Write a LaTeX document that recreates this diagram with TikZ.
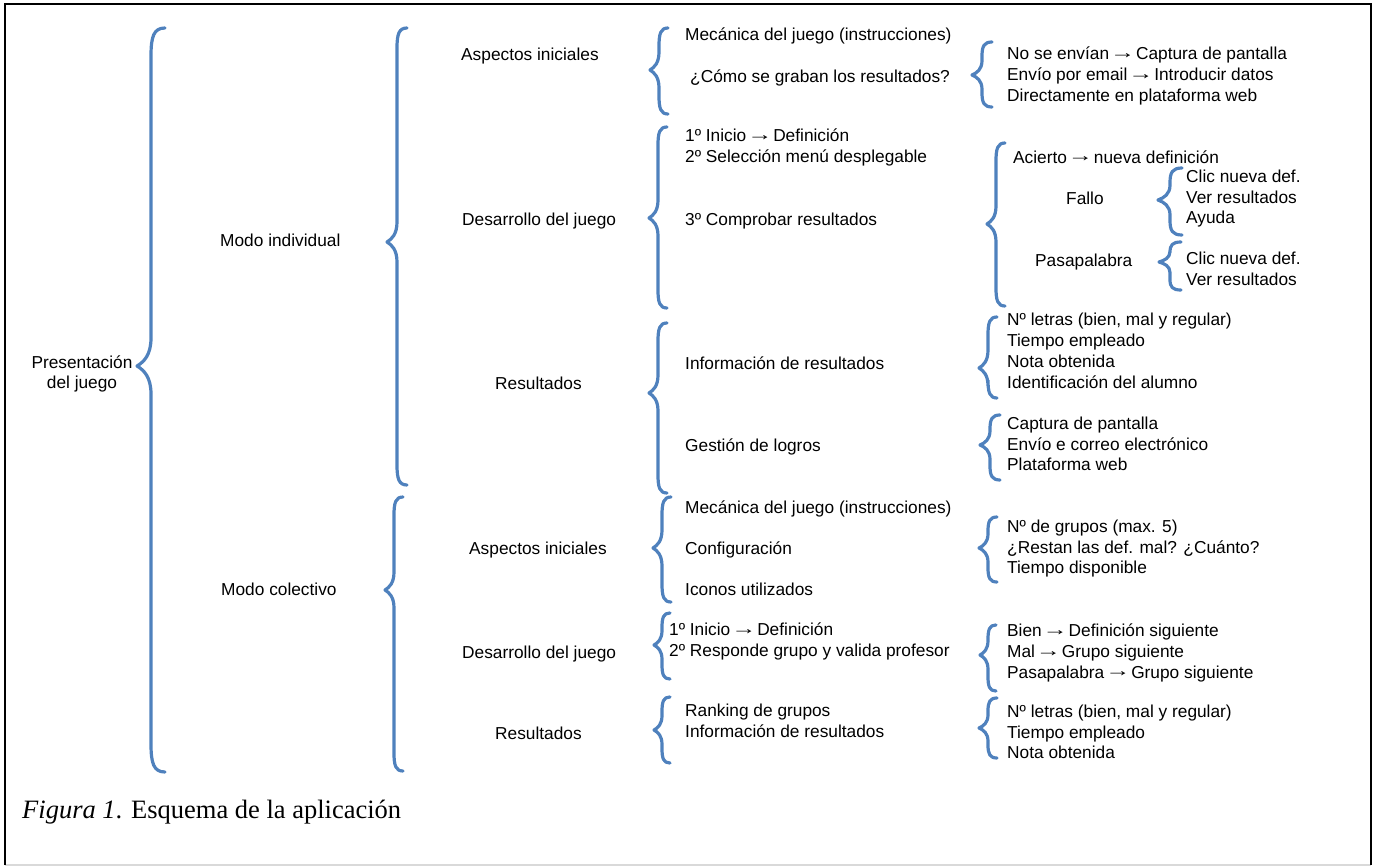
\documentclass[tikz,border=0pt]{standalone}
\usepackage{fontspec}
\setmainfont{Liberation Sans}
\newfontfamily\captionfont{Liberation Serif}
\usepackage{xcolor}
\usepackage{graphicx}
\usepackage{tikz}
\usetikzlibrary{positioning,calc}

\definecolor{llaveblue}{RGB}{79,129,189}

% arrow inside the texts
\newcommand{\flecha}{\makebox[1em][c]{\raisebox{1.2pt}{\scalebox{1.45}[1]{→}}}}

% brace: [half width]{x of stem}{top}{tip}{bottom}
\newcommand{\llave}[5][9]{%
  \pgfmathsetmacro{\llavelen}{min(2*#1,0.22*(#5-#3))}
  \draw[llave_line] ({#2+#1},#3) .. controls ({#2+0.2*#1},#3) and (#2,{#3+0.3*\llavelen}) .. (#2,{#3+\llavelen})
    -- (#2,{#4-\llavelen}) .. controls (#2,{#4-0.4*\llavelen}) and ({#2-0.5*#1},{#4-0.15*\llavelen}) .. ({#2-#1},#4)
    .. controls ({#2-0.5*#1},{#4+0.15*\llavelen}) and (#2,{#4+0.4*\llavelen}) .. (#2,{#4+\llavelen})
    -- (#2,{#5-\llavelen}) .. controls (#2,{#5-0.3*\llavelen}) and ({#2+0.2*#1},#5) .. ({#2+#1},#5);
}

\begin{document}
\begin{tikzpicture}[
    x=1pt, y=-1pt,
    llave_line/.style={draw=llaveblue, line width=3.2pt, line cap=round, line join=round},
    item_text/.style={anchor=west, align=left, inner sep=0pt, yshift=-2pt, font=\fontsize{17.3}{20.8}\selectfont,
      execute at begin node=\strut, execute at end node=\strut},
    root_text/.style={align=center, inner sep=0pt, font=\fontsize{17.3}{19.5}\selectfont},
    caption_text/.style={anchor=west, inner sep=0pt, font=\captionfont\fontsize{26.5}{30}\selectfont}
]
\useasboundingbox (0,0) rectangle (1377,867);

% Frame
\draw[black!15, line width=1.5pt] (5,865) -- (1371,865);
\draw[black, line width=2pt] (5,865) -- (5,4) -- (1371,4) -- (1371,865);

% Root
\node[root_text] (root) at (82,374) {Presentación\\del juego};
\llave[14]{151}{28}{366}{772}

% Modes
\node[item_text] (indiv) at (220,240) {Modo individual};
\node[item_text] (colec) at (221,589) {Modo colectivo};
\llave[10]{397}{28}{242}{485}
\llave[9]{394}{497}{590}{771}

% Modo individual: sections
\node[item_text] (ind_asp) at (461,54) {Aspectos iniciales};
\node[item_text] (ind_des) at (462,219) {Desarrollo del juego};
\node[item_text] (ind_res) at (495,383) {Resultados};
\llave[9]{659}{28}{70}{114}
\llave[9]{658}{127}{218}{308}
\llave[9]{658}{323}{393}{493}

% Aspectos iniciales (individual)
\node[item_text] (ind_mec) at (685,34) {Mecánica del juego (instrucciones)};
\node[item_text] (ind_graba) at (690,76) {¿Cómo se graban los resultados?};
\llave[10]{982}{42}{75}{107}
\node[item_text] (ind_envio) at (1007,75) {No se envían \flecha{} Captura de pantalla\\Envío por email \flecha{} Introducir datos\\Directamente en plataforma web};

% Desarrollo del juego (individual)
\node[item_text] (ind_pasos) at (685,147) {1º Inicio \flecha{} Definición\\2º Selección menú desplegable};
\node[item_text] (ind_comp) at (685,219) {3º Comprobar resultados};
\llave[9]{996}{143}{224}{306}
\node[item_text] (acierto) at (1013,157) {Acierto \flecha{} nueva definición};
\node[item_text] (fallo) at (1066,198) {Fallo};
\llave[12]{1170}{168}{200}{235}
\node[item_text] (fallo_ops) at (1186,198) {Clic nueva def.\\Ver resultados\\Ayuda};
\node[item_text] (pasa) at (1035,260) {Pasapalabra};
\llave[11]{1170}{242}{262}{290}
\node[item_text] (pasa_ops) at (1186,270) {Clic nueva def.\\Ver resultados};

% Resultados (individual)
\node[item_text] (ind_info) at (685,363) {Información de resultados};
\node[item_text] (ind_logros) at (685,445) {Gestión de logros};
\llave[9]{988}{317}{368}{398}
\node[item_text] (ind_datos) at (1007,352) {Nº letras (bien, mal y regular)\\Tiempo empleado\\Nota obtenida\\Identificación del alumno};
\llave[10]{990}{415}{445}{480}
\node[item_text] (ind_guardar) at (1007,445) {Captura de pantalla\\Envío e correo electrónico\\Plataforma web};

% Modo colectivo: sections
\node[item_text] (col_asp) at (469,548) {Aspectos iniciales};
\node[item_text] (col_des) at (462,652) {Desarrollo del juego};
\node[item_text] (col_res) at (495,733) {Resultados};
\llave[9]{662}{497}{548}{602}
\llave[8]{662}{613}{645}{679}
\llave[8]{662}{697}{730}{763}

% Aspectos iniciales (colectivo)
\node[item_text] (col_mec) at (685,507) {Mecánica del juego (instrucciones)};
\node[item_text] (col_conf) at (685,548) {Configuración};
\node[item_text] (col_iconos) at (685,589) {Iconos utilizados};
\llave[9]{988}{517}{548}{582}
\node[item_text] (col_conf_ops) at (1007,548) {Nº de grupos (max. 5)\\¿Restan las def. mal? ¿Cuánto?\\Tiempo disponible};

% Desarrollo del juego (colectivo)
\node[item_text] (col_pasos) at (669,641) {1º Inicio \flecha{} Definición\\2º Responde grupo y valida profesor};
\llave[8]{988}{625}{655}{691}
\node[item_text] (col_turnos) at (1007,652) {Bien \flecha{} Definición siguiente\\Mal \flecha{} Grupo siguiente\\Pasapalabra \flecha{} Grupo siguiente};

% Resultados (colectivo)
\node[item_text] (col_ranking) at (685,722) {Ranking de grupos\\Información de resultados};
\llave[9]{988}{698}{728}{758}
\node[item_text] (col_datos) at (1007,733) {Nº letras (bien, mal y regular)\\Tiempo empleado\\Nota obtenida};

% Caption
\node[caption_text] (caption) at (22,812) {\textit{Figura 1}. Esquema de la aplicación};

\end{tikzpicture}
\end{document}
